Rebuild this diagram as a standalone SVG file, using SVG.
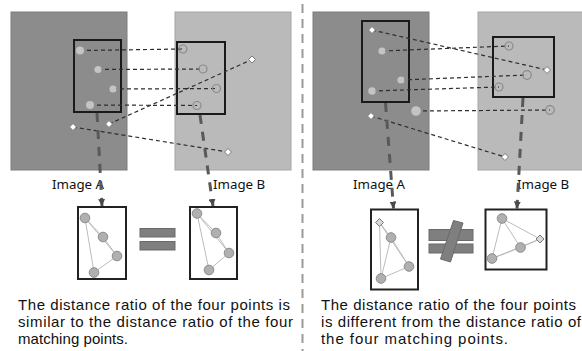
<svg xmlns="http://www.w3.org/2000/svg" width="582" height="351" viewBox="0 0 582 351">
<style>
.imgA{fill:#8c8c8c;stroke:#7c7c7c;stroke-width:1}
.imgB{fill:#bababa;stroke:#a6a6a6;stroke-width:1}
.roi{fill:none;stroke:#1a1a1a;stroke-width:2}
.box{fill:#fff;stroke:#222;stroke-width:2}
.ptA{fill:#c4c4c4;stroke:none}
.ptB{fill:none;stroke:#8a8a8a;stroke-width:1.2}
.dia{fill:#fff;stroke:#7a7a7a;stroke-width:1}
.match{fill:none;stroke:#2e2e2e;stroke-width:1.2;stroke-dasharray:4 3}
.flow{fill:none;stroke:#595959;stroke-width:3;stroke-dasharray:9 8}
.tri{fill:none;stroke:#b4b4b4;stroke-width:0.9}
.bp{fill:#b0b0b0;stroke:#8c8c8c;stroke-width:1}
.bd{fill:#d8d8d8;stroke:#7a7a7a;stroke-width:1}
.sign{fill:#7f7f7f;stroke:#6a6a6a;stroke-width:1}
.lbl{font-family:"Noto Sans","Liberation Sans",sans-serif;font-size:13.3px;fill:#111}
.cap{font-family:"Liberation Sans","Noto Sans",sans-serif;font-size:15px;fill:#111}
</style>
<defs>
<marker id="ah" viewBox="0 0 8 8" refX="8" refY="4" markerWidth="7" markerHeight="7" markerUnits="userSpaceOnUse" orient="auto">
<path d="M0,0 L8,4 L0,8 Z" fill="#4a4a4a"/>
</marker>
</defs>
<rect width="582" height="351" fill="#fff"/>

<!-- divider -->
<line x1="302.5" y1="4" x2="302.5" y2="351" stroke="#9a9a9a" stroke-width="2" stroke-dasharray="9 6"/>

<!-- LEFT PANEL -->
<g id="left-imageA">
<rect class="imgA" x="11" y="12" width="116" height="158"/>
<rect class="roi" x="74" y="40" width="47" height="72"/>
</g>
<g id="left-imageB">
<rect class="imgB" x="175" y="12" width="116" height="158"/>
<rect class="roi" x="177" y="42" width="48" height="72"/>
</g>
<g id="left-labels">
<text class="lbl" x="52" y="189">Image A</text>
<text class="lbl" x="213" y="189">Image B</text>
</g>

<!-- RIGHT PANEL -->
<g id="right-imageA">
<rect class="imgA" x="313" y="12" width="116" height="158"/>
<rect class="roi" x="362" y="21" width="47" height="81"/>
</g>
<g id="right-imageB">
<rect class="imgB" x="478" y="12" width="110" height="158"/>
<rect class="roi" x="493" y="37" width="61" height="60"/>
</g>
<g id="right-labels">
<text class="lbl" x="353" y="189">Image A</text>
<text class="lbl" x="517" y="189">Image B</text>
</g>

<g id="connectors">
<!-- left matches -->
<line class="match" x1="80" y1="50.5" x2="183" y2="49"/>
<line class="match" x1="98" y1="69.5" x2="203" y2="69"/>
<line class="match" x1="113" y1="89" x2="216.5" y2="88.5"/>
<line class="match" x1="90" y1="105" x2="197" y2="105.5"/>
<line class="match" x1="109" y1="124" x2="252" y2="59.5"/>
<line class="match" x1="73" y1="127" x2="228" y2="152"/>
<!-- right matches -->
<line class="match" x1="372" y1="30" x2="547" y2="70"/>
<line class="match" x1="382" y1="51" x2="509" y2="46"/>
<line class="match" x1="401" y1="80" x2="527" y2="75"/>
<line class="match" x1="372" y1="91" x2="499" y2="87"/>
<line class="match" x1="416" y1="111" x2="550" y2="110"/>
<line class="match" x1="371" y1="116" x2="505" y2="157"/>
<!-- flows -->
<line class="flow" x1="97" y1="113" x2="102" y2="206" marker-end="url(#ah)"/>
<line class="flow" x1="200" y1="115" x2="213" y2="206" marker-end="url(#ah)"/>
<line class="flow" x1="385.5" y1="103" x2="393.5" y2="208.5" marker-end="url(#ah)"/>
<line class="flow" x1="523" y1="98" x2="517" y2="208.5" marker-end="url(#ah)"/>
</g>

<g id="left-points">
<circle class="ptA" cx="80" cy="50.5" r="4"/>
<circle class="ptA" cx="98" cy="69.5" r="3.6"/>
<circle class="ptA" cx="113" cy="89" r="3.6"/>
<circle class="ptA" cx="90" cy="105" r="4"/>
<path class="dia" d="M109,120.5 L112.5,124 L109,127.5 L105.5,124 Z"/>
<path class="dia" d="M73,123.5 L76.5,127 L73,130.5 L69.5,127 Z"/>
<circle class="ptB" cx="183" cy="49" r="4"/>
<circle class="ptB" cx="203" cy="69" r="4" stroke="#9c9c9c"/>
<circle class="ptB" cx="216.5" cy="88.5" r="4" stroke="#9c9c9c"/>
<circle class="ptB" cx="197" cy="105.5" r="4"/>
<path class="dia" d="M252,56 L255.5,59.5 L252,63 L248.5,59.5 Z"/>
<path class="dia" d="M228,148.5 L231.5,152 L228,155.5 L224.5,152 Z"/>
</g>

<g id="right-points">
<path class="dia" d="M372,26.5 L375.5,30 L372,33.5 L368.5,30 Z"/>
<circle class="ptA" cx="382" cy="51" r="3.6"/>
<circle class="ptA" cx="401" cy="80" r="3.6"/>
<circle class="ptA" cx="372" cy="91" r="3.8"/>
<circle class="ptA" cx="416" cy="111" r="4.8" stroke="#a0a0a0" stroke-width="1"/>
<path class="dia" d="M371,112.5 L374.5,116 L371,119.5 L367.5,116 Z"/>
<circle class="ptB" cx="509" cy="46" r="4" stroke="#9c9c9c"/>
<path class="dia" d="M547,66.5 L550.5,70 L547,73.5 L543.5,70 Z"/>
<circle class="ptB" cx="527" cy="75" r="4.3" stroke="#9c9c9c"/>
<circle class="ptB" cx="499" cy="87" r="4" stroke="#9c9c9c"/>
<circle class="ptB" cx="550" cy="110" r="4.3"/>
<path class="dia" d="M505,153.5 L508.5,157 L505,160.5 L501.5,157 Z"/>
</g>

<g id="left-boxA">
<rect class="box" x="78" y="207" width="48" height="72"/>
<path class="tri" d="M85,218 L103,237 L117,256 L85,218 L94,272.5 L117,256"/>
<circle class="bp" cx="85" cy="218" r="4.8"/>
<circle class="bp" cx="103" cy="237" r="4.8"/>
<circle class="bp" cx="117" cy="256" r="4.8"/>
<circle class="bp" cx="94" cy="272.5" r="4.8"/>
</g>
<g id="left-equal">
<rect class="sign" x="140" y="228.5" width="35" height="8.5"/>
<rect class="sign" x="140" y="241.5" width="35" height="8.5"/>
</g>
<g id="left-boxB">
<rect class="box" x="190" y="207" width="47" height="72"/>
<path class="tri" d="M197,213.5 L216,233 L229,253 L197,213.5 L209,270 L229,253"/>
<circle class="bp" cx="197" cy="213.5" r="4.8"/>
<circle class="bp" cx="216" cy="233" r="4.8"/>
<circle class="bp" cx="229" cy="253" r="4.8"/>
<circle class="bp" cx="209" cy="270" r="4.8"/>
</g>

<g id="right-boxA">
<rect class="box" x="371" y="209.5" width="47" height="80"/>
<path class="tri" d="M379.5,222.5 L391,237.5 L409,266.5 L379.5,222.5 L381,278.5 L409,266.5 M391,237.5 L381,278.5"/>
<circle class="bp" cx="391" cy="237.5" r="4.8"/>
<circle class="bp" cx="409" cy="266.5" r="4.8"/>
<circle class="bp" cx="381" cy="278.5" r="4.8"/>
<path class="bd" d="M379.5,218.5 L383.5,222.5 L379.5,226.5 L375.5,222.5 Z"/>
</g>
<g id="right-notequal">
<rect class="sign" x="429" y="229.5" width="44" height="11"/>
<rect class="sign" x="429" y="244" width="44" height="9"/>
<path class="sign" d="M453.5,220.5 L463,223 L450.5,262 L440.5,259 Z"/>
</g>
<g id="right-boxB">
<rect class="box" x="485.5" y="209.5" width="61" height="60"/>
<path class="tri" d="M502,218.5 L540,239 L492,258.5 L502,218.5 L520.5,247.5 L492,258.5 M520.5,247.5 L540,239"/>
<circle class="bp" cx="502" cy="218.5" r="4.8"/>
<circle class="bp" cx="520.5" cy="247.5" r="4.8"/>
<circle class="bp" cx="492" cy="258.5" r="4.8"/>
<path class="bd" d="M540,235 L544,239 L540,243 L536,239 Z"/>
</g>

<g id="left-caption">
<text class="cap" x="18" y="309.5" textLength="272" lengthAdjust="spacing">The distance ratio of the four points is</text>
<text class="cap" x="18" y="326.5" textLength="275" lengthAdjust="spacing">similar to the distance ratio of the four</text>
<text class="cap" x="18" y="343.5" textLength="110" lengthAdjust="spacing">matching points.</text>
</g>
<g id="right-caption">
<text class="cap" x="321" y="309.5" textLength="255" lengthAdjust="spacing">The distance ratio of the four points</text>
<text class="cap" x="321" y="326.5" textLength="260" lengthAdjust="spacing">is different from the distance ratio of</text>
<text class="cap" x="321" y="343.5" textLength="187" lengthAdjust="spacing">the four matching points.</text>
</g>
</svg>
